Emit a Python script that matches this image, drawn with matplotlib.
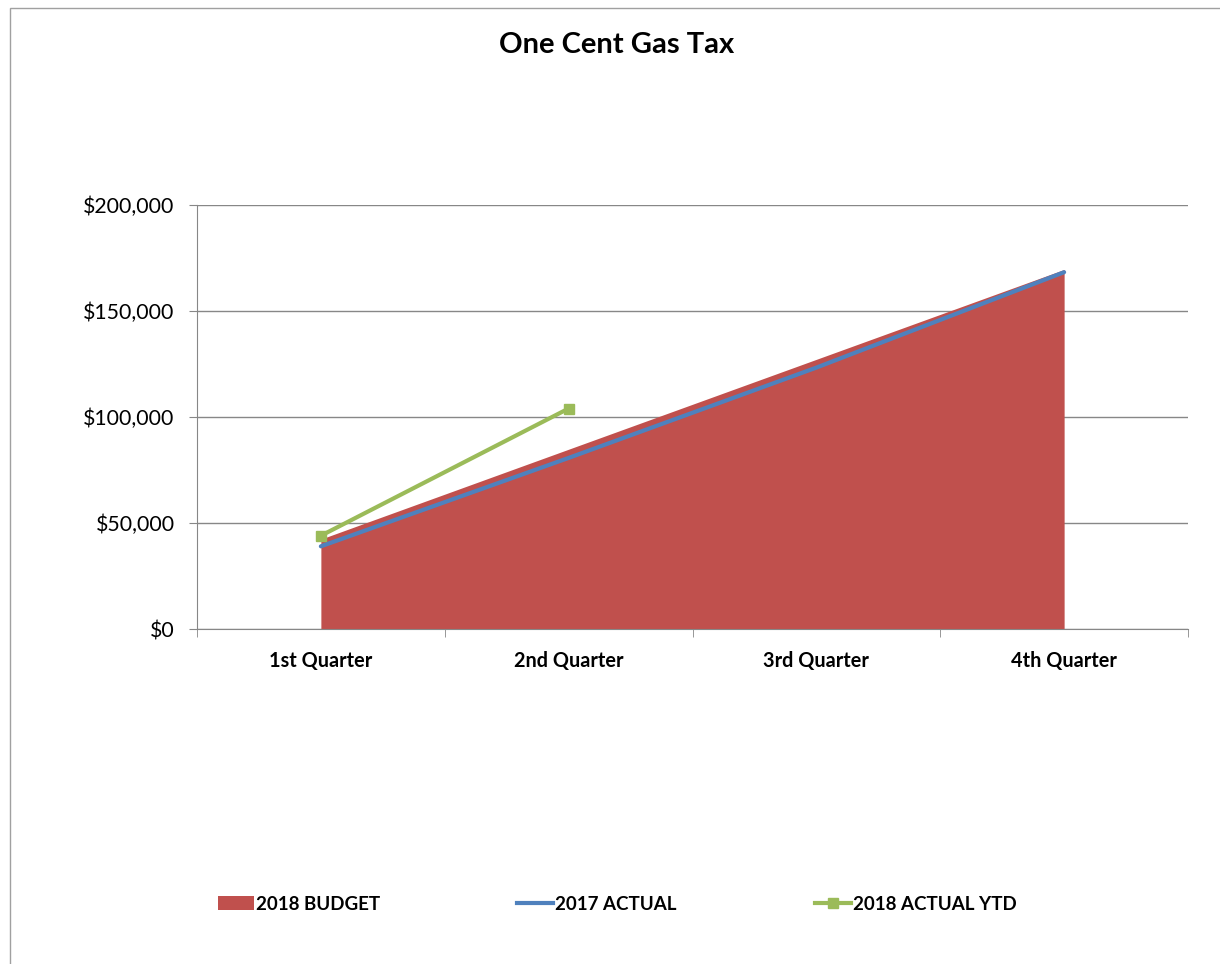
import matplotlib
matplotlib.use("Agg")
import matplotlib.pyplot as plt
from matplotlib.lines import Line2D
from matplotlib.patches import Patch, Rectangle
from matplotlib.ticker import FuncFormatter, FixedLocator

quarters = ["1st Quarter", "2nd Quarter", "3rd Quarter", "4th Quarter"]
budget_2018 = [42400, 84800, 127200, 169600]
actual_2017 = [39000, 80700, 123300, 168300]
actual_ytd_2018 = [44000, 104000]

plt.rcParams["font.family"] = ["Lato", "DejaVu Sans"]

RED = "#C0504D"
BLUE = "#4F81BD"
GREEN = "#9BBB59"
GRID = "#878787"

W, H = 1220, 964
fig = plt.figure(figsize=(W / 100, H / 100), dpi=100)

# chart frame
fig.patches.append(Rectangle((10 / W, -0.05), 1.2, 1 - 8 / H + 0.05,
                             transform=fig.transFigure, fill=False,
                             edgecolor="#A0A0A0", linewidth=1.0))

ax = fig.add_axes([197 / W, 1 - 629 / H, (1188 - 197) / W, (629 - 205) / H])
x = list(range(len(quarters)))

ax.fill_between(x, 0, budget_2018, color=RED, linewidth=0, zorder=2)
ax.plot(x, actual_2017, color=BLUE, linewidth=3.0, zorder=3, solid_capstyle="round")
ax.plot(x[:len(actual_ytd_2018)], actual_ytd_2018, color=GREEN, linewidth=3.0,
        marker="s", markersize=7, zorder=4)

ax.set_xlim(-0.5, 3.5)
ax.set_ylim(0, 200000)
ax.set_yticks([0, 50000, 100000, 150000, 200000])
ax.yaxis.set_major_formatter(FuncFormatter(lambda v, p: f"${v:,.0f}"))
ax.grid(axis="y", color=GRID, linewidth=1.0, zorder=0)
ax.set_axisbelow(True)

ax.set_xticks(x)
ax.set_xticklabels(quarters, fontweight="bold")
ax.xaxis.set_minor_locator(FixedLocator([-0.5, 0.5, 1.5, 2.5, 3.5]))
ax.tick_params(axis="x", which="major", length=0, pad=16, labelsize=14.3)
ax.tick_params(axis="x", which="minor", length=6, color=GRID, direction="out")
ax.tick_params(axis="y", length=6, color=GRID, pad=10, labelsize=15.3)

for side in ("top", "right"):
    ax.spines[side].set_visible(False)
ax.spines["left"].set_color(GRID)
ax.spines["bottom"].set_color(GRID)

fig.text(617 / W, 1 - 45 / H, "One Cent Gas Tax", ha="center", va="center",
         fontsize=21, fontweight="bold")

entries = [
    (Patch(facecolor=RED, edgecolor="none"), "2018 BUDGET", 218),
    (Line2D([], [], color=BLUE, linewidth=3.0), "2017 ACTUAL", 517),
    (Line2D([], [], color=GREEN, linewidth=3.0, marker="s", markersize=7), "2018 ACTUAL YTD", 815),
]
for handle, label, xpos in entries:
    fig.legend([handle], [label], loc="center left",
               bbox_to_anchor=(xpos / W, 1 - 904 / H), frameon=False,
               prop={"weight": "bold", "size": 13.5}, handlelength=1.9,
               handleheight=0.8, handletextpad=0.15, borderpad=0, borderaxespad=0)

fig.savefig("out.png", dpi=100)
